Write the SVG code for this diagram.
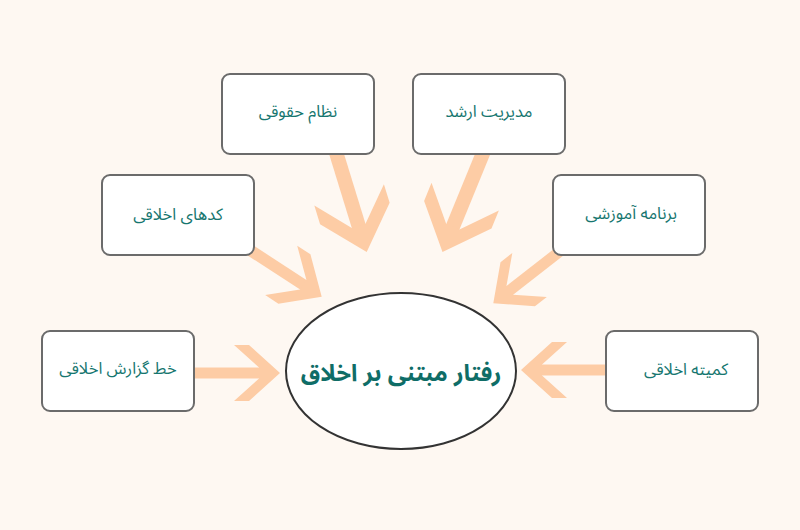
<svg xmlns="http://www.w3.org/2000/svg" xmlns:xlink="http://www.w3.org/1999/xlink" width="800" height="530" viewBox="0 0 800 530">
  <style>
    .box { fill: #ffffff; stroke: #6b6b6b; stroke-width: 2; }
    .lbl { font-family: "Noto Sans Arabic", "DejaVu Sans", "Noto Sans", sans-serif; font-size: 16.5px; fill: #16766f; text-anchor: middle; }
    .title { font-family: "Noto Sans Arabic", "DejaVu Sans", "Noto Sans", sans-serif; font-size: 23.5px; font-weight: bold; fill: #0f6d67; text-anchor: middle; }
    .arr { fill: #fdcca5; }
  </style>
  <defs>
    <path id="head" d="M0,0 L-31,-28 L-46,-28 L-21,-5.5 L-21,5.5 L-46,28 L-31,28 Z"/>
  </defs>
  <rect width="800" height="530" fill="#fef8f2"/>

  <g id="connectors" class="arr">
    <g transform="translate(280,373)"><rect x="-90" y="-5.5" width="80" height="11"/><use xlink:href="#head"/></g>
    <g transform="translate(521,370) rotate(180)"><rect x="-90" y="-5.5" width="80" height="11"/><use xlink:href="#head"/></g>
    <g transform="translate(321.7,296.7) rotate(33) scale(1.05)"><rect x="-88" y="-5.5" width="78" height="11"/><use xlink:href="#head"/></g>
    <g transform="translate(493.3,303.3) rotate(142)"><rect x="-88" y="-5.5" width="78" height="11"/><use xlink:href="#head"/></g>
    <g transform="translate(366.7,252) rotate(72.9) scale(1.3)"><rect x="-85" y="-5.5" width="75" height="11"/><use xlink:href="#head"/></g>
    <g transform="translate(442.5,252) rotate(112.3) scale(1.3)"><rect x="-88" y="-5.5" width="78" height="11"/><use xlink:href="#head"/></g>
  </g>

  <g id="node-center">
    <ellipse cx="401" cy="371" rx="115" ry="78" fill="#ffffff" stroke="#333333" stroke-width="2"/>
    <text class="title" x="401" y="381">رفتار مبتنی بر اخلاق</text>
  </g>
  <g id="node-report">
    <rect class="box" x="42" y="331" width="152" height="80" rx="8"/>
    <text class="lbl" x="118" y="374">خط گزارش اخلاقی</text>
  </g>
  <g id="node-committee">
    <rect class="box" x="606" y="331" width="152" height="80" rx="8"/>
    <text class="lbl" x="686" y="375">کمیته اخلاقی</text>
  </g>
  <g id="node-codes">
    <rect class="box" x="102" y="175" width="152" height="80" rx="8"/>
    <text class="lbl" x="178" y="220">کدهای اخلاقی</text>
  </g>
  <g id="node-training">
    <rect class="box" x="553" y="175" width="152" height="80" rx="8"/>
    <text class="lbl" x="631" y="219">برنامه آموزشی</text>
  </g>
  <g id="node-legal">
    <rect class="box" x="222" y="74" width="152" height="80" rx="8"/>
    <text class="lbl" x="298" y="117">نظام حقوقی</text>
  </g>
  <g id="node-management">
    <rect class="box" x="413" y="74" width="152" height="80" rx="8"/>
    <text class="lbl" x="489" y="117">مدیریت ارشد</text>
  </g>
</svg>
